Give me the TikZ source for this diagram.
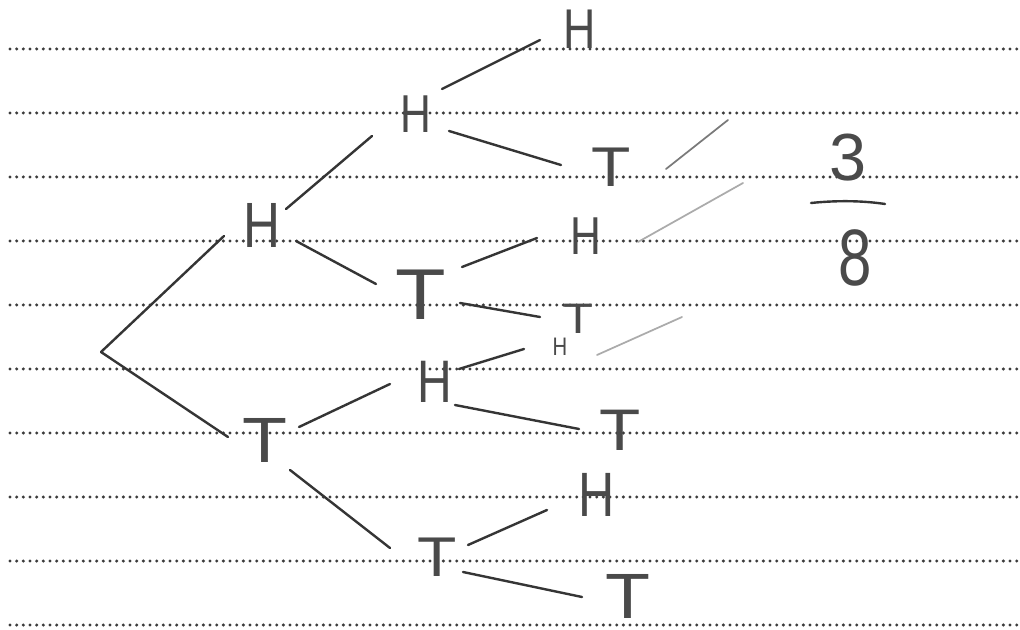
\documentclass[tikz,border=0pt]{standalone}
\usepackage{fontspec}
\setmainfont{Liberation Sans}
\usetikzlibrary{calc}
\definecolor{ink}{HTML}{353535}
\definecolor{letter}{HTML}{4A4A4A}
\definecolor{dotc}{HTML}{3C3C3C}
\definecolor{pencil}{HTML}{ABABAB}
\definecolor{pencildark}{HTML}{7A7A7A}
\begin{document}
\begin{tikzpicture}[x=0.75pt,y=-0.75pt,
  lab/.style={text=letter,inner sep=0pt,font=\fontsize{#1}{#1}\selectfont},
  hl/.style={lab=#1,xscale=0.8},
  tl/.style={lab=#1,xscale=1.15},
  ruled/.style={draw=dotc,line width=2.5pt,line cap=round,dash pattern=on 0pt off 5pt},
  branch/.style={draw=ink,line width=1.8pt,line cap=round},
  pointer/.style={draw=pencil,line width=1.3pt,line cap=round}]
\fill[white] (0,0) rectangle (1020,630);
\useasboundingbox (0,0) rectangle (1020,630);
% ruled paper
\foreach \yy in {49,113,177,241,305,369,433,497,561,625}
  \draw[ruled] (10,\yy) -- (1020,\yy);
% outcomes
\node[hl=42] (hhh) at (580,29) {H};
\node[hl=40] (hh) at (416,114) {H};
\node[tl=42] (hht) at (611,167) {T};
\node[hl=48] (h) at (262,225) {H};
\node[tl=54] (ht) at (421,295) {T};
\node[hl=40] (hth) at (586,236) {H};
\node[tl=32] (htt) at (578,319) {T};
\node[hl=19] (thh) at (560,347) {H};
\node[hl=45] (th) at (435,382) {H};
\node[tl=44] (tht) at (620,430) {T};
\node[tl=48] (t) at (265,440) {T};
\node[tl=42] (tt) at (437,557) {T};
\node[hl=47] (tth) at (597,495) {H};
\node[tl=48] (ttt) at (628,596) {T};
\coordinate (root) at (101,352);
% branches
\draw[branch] (root) -- ($(h)+(-38,11)$);
\draw[branch] (root) -- ($(t)+(-37,-3)$);
\draw[branch] ($(h)+(24,-16)$) -- ($(hh)+(-44,22)$);
\draw[branch] ($(h)+(34,16)$) -- ($(ht)+(-45,-11)$);
\draw[branch] ($(hh)+(26,-25)$) -- ($(hhh)+(-40,11)$);
\draw[branch] ($(hh)+(33,17)$) -- ($(hht)+(-50,-2)$);
\draw[branch] ($(ht)+(41,-28)$) -- ($(hth)+(-49,2)$);
\draw[branch] ($(ht)+(39,8)$) -- ($(htt)+(-38,-2)$);
\draw[branch] ($(t)+(34,-13)$) -- ($(th)+(-45,2)$);
\draw[branch] ($(th)+(24,-13)$) -- ($(thh)+(-36,2)$);
\draw[branch] ($(th)+(20,23)$) -- ($(tht)+(-41,-1)$);
\draw[branch] ($(t)+(25,30)$) -- ($(tt)+(-47,-9)$);
\draw[branch] ($(tt)+(31,-12)$) -- ($(tth)+(-50,15)$);
\draw[branch] ($(tt)+(26,15)$) -- ($(ttt)+(-46,1)$);
% pointers to the favourable outcomes
\coordinate (p1) at (728,120);
\coordinate (p2) at (743,183);
\coordinate (p3) at (682,317);
\draw[pointer,draw=pencildark] (p1) -- ($(hht)+(55,2)$);
\draw[pointer] (p2) -- ($(hth)+(52,6)$);
\draw[pointer] (p3) -- ($(thh)+(37,8)$);
% answer
\node[lab=50] (num) at (848,158) {3};
\draw[branch] (811,203) .. controls (840,200) and (865,201) .. (885,204);
\node[lab=60,xscale=0.75] (den) at (855,258) {8};
\end{tikzpicture}
\end{document}
